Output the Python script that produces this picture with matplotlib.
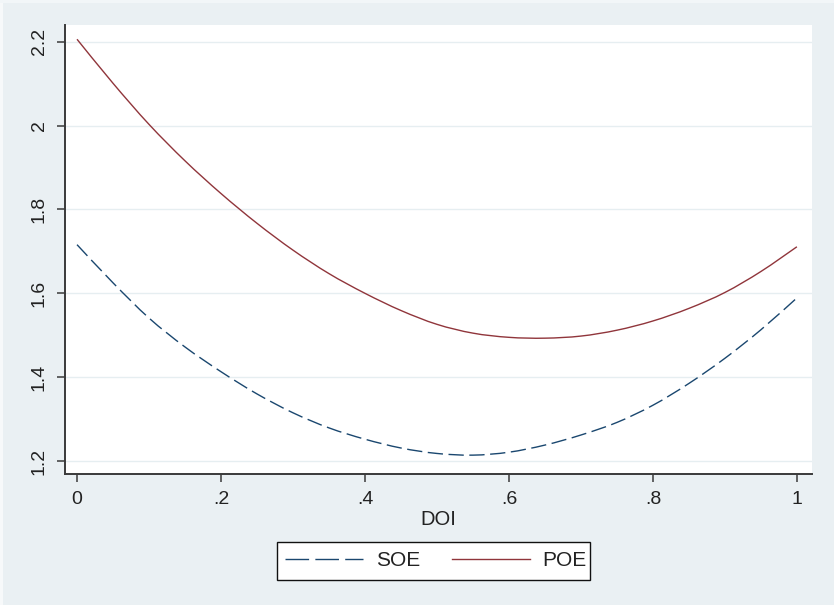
import matplotlib
matplotlib.use("Agg")
import matplotlib.pyplot as plt
from matplotlib.patches import Rectangle, PathPatch
from matplotlib.path import Path
from matplotlib.lines import Line2D

plt.rcParams['font.family'] = ['Liberation Sans', 'DejaVu Sans']
plt.rcParams['lines.scale_dashes'] = False

# Fitted outcome by DOI
doi = [0.00, 0.05, 0.10, 0.15, 0.20, 0.25, 0.30, 0.35, 0.40, 0.45, 0.50,
       0.55, 0.60, 0.65, 0.70, 0.75, 0.80, 0.85, 0.90, 0.95, 1.00]
soe = [1.716, 1.625, 1.541, 1.472, 1.413, 1.360, 1.315, 1.279, 1.252, 1.231, 1.218,
       1.214, 1.221, 1.238, 1.262, 1.292, 1.333, 1.385, 1.445, 1.513, 1.589]
poe = [2.206, 2.101, 2.003, 1.916, 1.838, 1.767, 1.703, 1.647, 1.600, 1.559, 1.526,
       1.505, 1.495, 1.493, 1.498, 1.512, 1.534, 1.564, 1.602, 1.652, 1.711]

xticks = [0, 0.2, 0.4, 0.6, 0.8, 1.0]
xticklabels = ['0', '.2', '.4', '.6', '.8', '1']
yticks = [1.2, 1.4, 1.6, 1.8, 2.0, 2.2]
yticklabels = ['1.2', '1.4', '1.6', '1.8', '2', '2.2']

bg = '#EAF0F3'
navy = '#1A476F'
maroon = '#90353B'
txt = '#222222'


def smooth_path(xs, ys):
    """Cubic Bezier path passing through every (x, y) point (Catmull-Rom)."""
    pts = list(zip(xs, ys))
    n = len(pts)
    verts = [pts[0]]
    codes = [Path.MOVETO]
    for i in range(n - 1):
        p0 = pts[i - 1] if i > 0 else pts[i]
        p1 = pts[i]
        p2 = pts[i + 1]
        p3 = pts[i + 2] if i + 2 < n else pts[i + 1]
        c1 = (p1[0] + (p2[0] - p0[0]) / 6, p1[1] + (p2[1] - p0[1]) / 6)
        c2 = (p2[0] - (p3[0] - p1[0]) / 6, p2[1] - (p3[1] - p1[1]) / 6)
        verts += [c1, c2, p2]
        codes += [Path.CURVE4] * 3
    return Path(verts, codes)


W, H = 834, 605
fig = plt.figure(figsize=(W / 100, H / 100), dpi=100, facecolor=bg)
ax = fig.add_axes([65 / W, 1 - 474 / H, (812 - 65) / W, (474 - 25) / H])
ax.set_facecolor('white')

soe_dash = (0, (11, 4))
ax.add_patch(PathPatch(smooth_path(doi, soe), fill=False, edgecolor=navy,
                       lw=1.0, linestyle=soe_dash, zorder=3))
ax.add_patch(PathPatch(smooth_path(doi, poe), fill=False, edgecolor=maroon,
                       lw=1.0, zorder=3))

ax.set_xlim(-0.0167, 1.021)
ax.set_ylim(1.169, 2.24)

ax.set_xticks(xticks)
ax.set_xticklabels(xticklabels)
ax.set_yticks(yticks)
ax.set_yticklabels(yticklabels, rotation=90, va='center')

ax.grid(axis='y', color='#E6EEF1', lw=1.0)
ax.set_axisbelow(True)

for s in ('top', 'right'):
    ax.spines[s].set_visible(False)
for s in ('left', 'bottom'):
    ax.spines[s].set_color('#3A3A3A')
    ax.spines[s].set_linewidth(1.4)

ax.tick_params(axis='both', direction='out', length=5.5, width=1.1,
               color='#3A3A3A', labelsize=14, labelcolor=txt)
ax.tick_params(axis='x', pad=7)
ax.tick_params(axis='y', pad=7)

ax.set_xlabel('DOI', fontsize=14.5, color=txt, labelpad=1)

# legend box
fig.patches.append(Rectangle((277 / W, 1 - 580 / H), (590 - 277) / W, 38 / H,
                             transform=fig.transFigure, facecolor='white',
                             edgecolor='#111111', lw=1.0, zorder=1))
handles = [Line2D([], [], color=navy, lw=1.0, dashes=(17, 4.5)),
           Line2D([], [], color=maroon, lw=1.0)]
leg = fig.legend(handles, ['SOE', 'POE'], loc='center left',
                 bbox_to_anchor=(285 / W, 1 - 561 / H), ncol=2,
                 fontsize=15, frameon=False, handlelength=3.75,
                 handletextpad=0.62, columnspacing=1.5, borderpad=0,
                 borderaxespad=0)
leg.set_zorder(2)
for t in leg.get_texts():
    t.set_color(txt)

# thin light edge along the left and top of the canvas
fig.patches.append(Rectangle((0, 0), 3 / W, 1, transform=fig.transFigure,
                             facecolor='#F7F9FA', edgecolor='none', zorder=-1))
fig.patches.append(Rectangle((0, 1 - 3 / H), 1, 3 / H, transform=fig.transFigure,
                             facecolor='#F2F6F8', edgecolor='none', zorder=-1))

fig.savefig('out.png', dpi=100, facecolor=bg)
